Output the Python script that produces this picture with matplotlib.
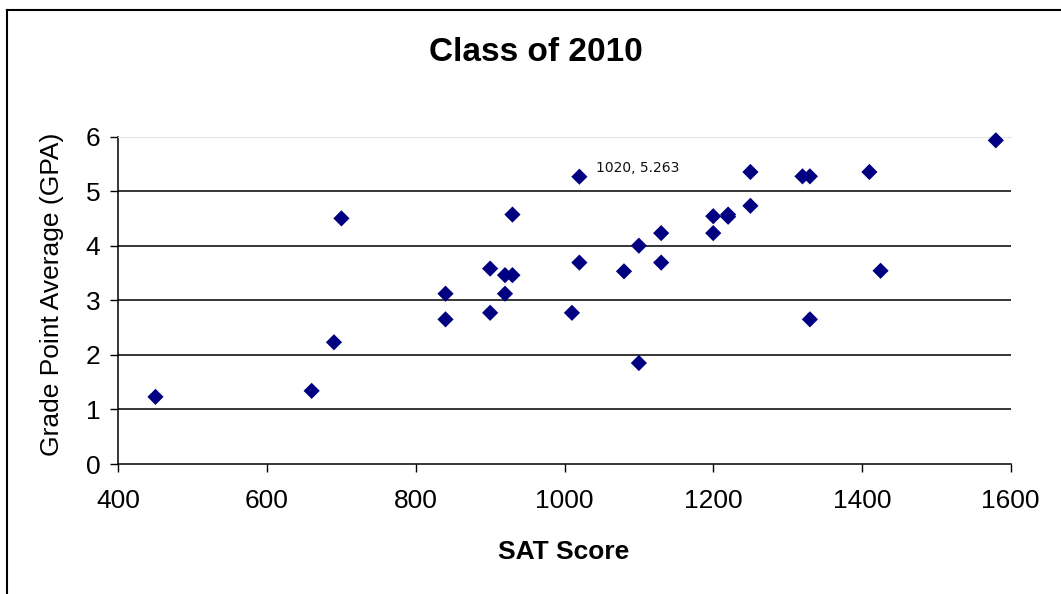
import matplotlib
matplotlib.use("Agg")
import matplotlib.pyplot as plt
from matplotlib.lines import Line2D

# Data
sat = [450, 660, 690, 700, 840, 840, 900, 900, 920, 920, 930, 930, 1010, 1020, 1020,
       1080, 1100, 1100, 1130, 1130, 1200, 1200, 1220, 1220, 1250, 1250, 1320, 1330,
       1330, 1410, 1425, 1580]
gpa = [1.23, 1.34, 2.23, 4.50, 3.12, 2.65, 3.58, 2.77, 3.46, 3.12, 4.57, 3.46, 2.77, 5.263, 3.69,
       3.53, 4.00, 1.85, 4.23, 3.69, 4.54, 4.23, 4.57, 4.53, 5.35, 4.73, 5.27, 5.27,
       2.65, 5.35, 3.54, 5.93]
x_ticks = [400, 600, 800, 1000, 1200, 1400, 1600]
y_ticks = [0, 1, 2, 3, 4, 5, 6]
label_point = (1020, 5.263)

W, H = 1061, 594
fig = plt.figure(figsize=(W / 100, H / 100), dpi=100)
plt.rcParams['font.family'] = ['Liberation Sans', 'DejaVu Sans']

def fx(px):
    return px / W

def fy(py):
    return 1 - py / H

ax = fig.add_axes([fx(118.3), fy(464), fx(1010.7) - fx(118.3), fy(136.5) - fy(464)])
ax.set_xlim(400, 1600)
ax.set_ylim(0, 6)

for y in y_ticks[1:-1]:
    ax.axhline(y, color='black', lw=1.1, zorder=1)

ax.scatter(sat, gpa, marker='D', s=68, color='#000080', edgecolors='none', zorder=3, clip_on=False)

ax.annotate(f"{label_point[0]}, {label_point[1]}", xy=label_point, xytext=(12.2, 6.3),
            textcoords='offset points', ha='left', va='center',
            fontsize=10, family='DejaVu Sans', color='#111111', fontweight='medium')

ax.spines['right'].set_visible(False)
ax.spines['top'].set_color('#e6e6e6')
ax.spines['left'].set_color('black')
ax.spines['bottom'].set_color('black')
ax.spines['left'].set_linewidth(1.1)
ax.spines['bottom'].set_linewidth(1.1)

ax.set_xticks(x_ticks)
ax.set_yticks(y_ticks)
ax.set_xticklabels([str(v) for v in x_ticks])
ax.set_yticklabels([str(v) for v in y_ticks])
ax.tick_params(axis='x', direction='out', length=6, width=1, pad=12, labelsize=19)
ax.tick_params(axis='y', direction='out', length=6, width=1, pad=7, labelsize=19)

fig.text(fx(536), fy(52.5), "Class of 2010", ha='center', va='center',
         fontsize=24, fontweight='bold')
fig.text(fx(564), fy(552), "SAT Score", ha='center', va='center',
         fontsize=19, fontweight='bold')
fig.text(fx(52), fy(294), "Grade Point Average (GPA)", ha='center', va='center',
         rotation=90, fontsize=19)

# chart-area border (left and top edges visible)
fig.add_artist(Line2D([fx(7), fx(7)], [fy(9.5), 0], transform=fig.transFigure,
                      color='black', lw=1.5))
fig.add_artist(Line2D([fx(7), 1], [fy(9.5), fy(9.5)], transform=fig.transFigure,
                      color='black', lw=1.5))

fig.savefig("out.png", dpi=100)
